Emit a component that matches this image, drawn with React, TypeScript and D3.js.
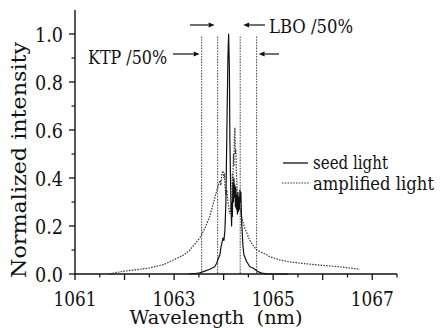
import React from "react";
import * as d3 from "d3";

const seedWl = [1063.30,1063.45,1063.52,1063.62,1063.72,1063.82,1063.86,1063.885,1063.925,1063.945,1063.966,1063.986,1064.006,1064.026,1064.046,1064.066,1064.087,1064.101,1064.117,1064.127,1064.147,1064.161,1064.170,1064.177,1064.187,1064.198,1064.208,1064.218,1064.228,1064.238,1064.248,1064.258,1064.268,1064.278,1064.288,1064.298,1064.308,1064.318,1064.329,1064.339,1064.349,1064.359,1064.369,1064.389,1064.41,1064.43,1064.47,1064.53,1064.59,1064.63,1064.69,1064.77,1064.9,1065.3];
const seedVal = [0,0.003,0.005,0.012,0.02,0.03,0.045,0.06,0.08,0.11,0.13,0.15,0.14,0.18,0.3,0.6,0.9,1.0,0.85,0.55,0.3,0.2,0.3,0.24,0.38,0.3,0.4,0.32,0.37,0.28,0.36,0.27,0.33,0.25,0.34,0.26,0.32,0.27,0.35,0.3,0.34,0.25,0.2,0.12,0.08,0.07,0.05,0.03,0.025,0.02,0.01,0.004,0,0];

const ampWl = [1061.70,1061.80,1062.00,1062.25,1062.50,1062.80,1063.00,1063.20,1063.32,1063.42,1063.52,1063.62,1063.72,1063.80,1063.865,1063.925,1063.945,1063.966,1063.986,1064.006,1064.016,1064.026,1064.046,1064.066,1064.087,1064.107,1064.127,1064.147,1064.167,1064.177,1064.187,1064.198,1064.208,1064.218,1064.228,1064.238,1064.248,1064.258,1064.268,1064.288,1064.329,1064.369,1064.43,1064.47,1064.53,1064.59,1064.67,1064.77,1064.87,1064.93,1065.14,1065.34,1065.54,1065.94,1066.35,1066.75];
const ampVal = [0,0.005,0.012,0.018,0.025,0.04,0.06,0.08,0.10,0.125,0.15,0.19,0.24,0.30,0.35,0.39,0.37,0.42,0.43,0.40,0.42,0.37,0.33,0.35,0.30,0.27,0.25,0.28,0.30,0.42,0.38,0.5,0.45,0.58,0.61,0.5,0.52,0.42,0.38,0.30,0.28,0.23,0.19,0.17,0.14,0.12,0.10,0.09,0.08,0.072,0.058,0.05,0.045,0.037,0.03,0.02];

const markerWl = [1063.556, 1063.879, 1064.335, 1064.666];
const markerTop = 0.99;

const xTickLabels = ["1061", "1063", "1065", "1067"];
const yTickLabels = ["0.0", "0.2", "0.4", "0.6", "0.8", "1.0"];
const seriesNames = ["seed light", "amplified light"];
const xTitle = "Wavelength  (nm)";
const yTitle = "Normalized intensity";
const ktpLabel = "KTP /50%";
const lboLabel = "LBO /50%";

const FONT = "DejaVu Serif";

function Arrow({ x1, x2, y }: { x1: number; x2: number; y: number }) {
  const dir = Math.sign(x2 - x1);
  const hl = 6;
  const hw = 2.6;
  return (
    <g>
      <line x1={x1} x2={x2 - dir * hl} y1={y} y2={y} stroke="#111" strokeWidth={1.2} />
      <path d={`M${x2},${y} L${x2 - dir * hl},${y - hw} L${x2 - dir * hl},${y + hw} Z`} fill="#111" />
    </g>
  );
}

export default function App() {
  const x = d3.scaleLinear().domain([1061, 1067.5]).range([75, 397]);
  const y = d3.scaleLinear().domain([0, 1.1]).range([274, 10]);

  const line = d3
    .line<[number, number]>()
    .x((d) => x(d[0]))
    .y((d) => y(d[1]));

  const seed: [number, number][] = seedWl.map((w, i) => [w, seedVal[i]]);
  const amp: [number, number][] = ampWl.map((w, i) => [w, ampVal[i]]);

  const xMajor = d3.range(1061, 1067.6, 1);
  const xMinor = d3.range(1061.5, 1067.6, 1);
  const yMajor = d3.range(0, 1.01, 0.2);
  const yMinor = d3.range(0.1, 1.01, 0.2);

  return (
    <svg
      width={440}
      height={328}
      style={{ position: "absolute", left: 0, top: 0, background: "#fff" }}
      fontFamily={FONT}
    >
      <rect width={440} height={328} fill="#fff" />
      {markerWl.map((w, i) => (
        <line
          key={i}
          x1={x(w)}
          x2={x(w)}
          y1={y(markerTop)}
          y2={y(0)}
          stroke="#555"
          strokeWidth={1.1}
          strokeDasharray="1.6,1.2"
        />
      ))}
      <path d={line(amp) || ""} fill="none" stroke="#333" strokeWidth={1.2} strokeDasharray="1.5,1.3" />
      <path d={line(seed) || ""} fill="none" stroke="#111" strokeWidth={1.2} strokeLinejoin="round" />

      <line x1={x(1061)} x2={x(1061)} y1={y(1.1)} y2={y(0)} stroke="#111" strokeWidth={1.4} />
      <line x1={x(1061)} x2={x(1067.5)} y1={y(0)} y2={y(0)} stroke="#111" strokeWidth={1.4} />
      {yMajor.map((v, i) => (
        <line key={"ym" + i} x1={x(1061) - 6} x2={x(1061)} y1={y(v)} y2={y(v)} stroke="#111" strokeWidth={1.3} />
      ))}
      {yMinor.map((v, i) => (
        <line key={"yn" + i} x1={x(1061) - 3.5} x2={x(1061)} y1={y(v)} y2={y(v)} stroke="#111" strokeWidth={1.2} />
      ))}
      {xMajor.map((v, i) => (
        <line key={"xm" + i} x1={x(v)} x2={x(v)} y1={y(0)} y2={y(0) + 6} stroke="#111" strokeWidth={1.3} />
      ))}
      {xMinor.map((v, i) => (
        <line key={"xn" + i} x1={x(v)} x2={x(v)} y1={y(0)} y2={y(0) + 3.5} stroke="#111" strokeWidth={1.2} />
      ))}
      {yTickLabels.map((t, i) => (
        <text
          key={"yl" + i}
          x={63}
          y={y(+t) + 7.5}
          textAnchor="end"
          fontSize={20}
          textLength={28}
          lengthAdjust="spacingAndGlyphs"
          fill="#111"
        >
          {t}
        </text>
      ))}
      {xTickLabels.map((t, i) => (
        <text
          key={"xl" + i}
          x={x(+t)}
          y={306}
          textAnchor="middle"
          fontSize={20}
          textLength={43}
          lengthAdjust="spacingAndGlyphs"
          fill="#111"
        >
          {t}
        </text>
      ))}
      <text
        x={216}
        y={324}
        textAnchor="middle"
        fontSize={19}
        textLength={173}
        lengthAdjust="spacingAndGlyphs"
        fill="#111"
        style={{ whiteSpace: "pre" }}
      >
        {xTitle}
      </text>
      <text
        transform={`translate(26,160) rotate(-90)`}
        textAnchor="middle"
        fontSize={20}
        textLength={236}
        lengthAdjust="spacingAndGlyphs"
        fill="#111"
      >
        {yTitle}
      </text>

      <text x={88} y={64} fontSize={19} textLength={79} lengthAdjust="spacingAndGlyphs" fill="#111">
        {ktpLabel}
      </text>
      <text x={269} y={33} fontSize={19} textLength={84} lengthAdjust="spacingAndGlyphs" fill="#111">
        {lboLabel}
      </text>
      <Arrow x1={190} x2={x(markerWl[1]) - 3} y={25} />
      <Arrow x1={265} x2={x(markerWl[2]) + 3} y={25} />
      <Arrow x1={173} x2={x(markerWl[0]) - 2} y={54} />
      <Arrow x1={279} x2={x(markerWl[3]) + 2} y={54} />

      <line x1={283} x2={308} y1={163} y2={163} stroke="#111" strokeWidth={1.3} />
      <text x={313} y={169} fontSize={19} textLength={75} lengthAdjust="spacingAndGlyphs" fill="#111">
        {seriesNames[0]}
      </text>
      <line x1={282} x2={310} y1={183} y2={183} stroke="#333" strokeWidth={1.2} strokeDasharray="1.5,1.3" />
      <text x={313} y={190} fontSize={19} textLength={121} lengthAdjust="spacingAndGlyphs" fill="#111">
        {seriesNames[1]}
      </text>
    </svg>
  );
}
